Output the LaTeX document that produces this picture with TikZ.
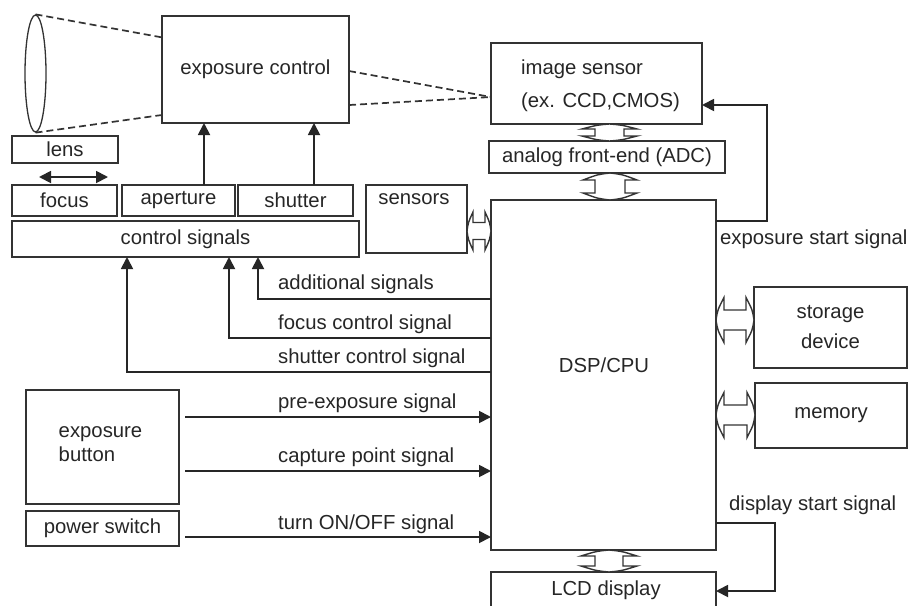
\documentclass[tikz,border=0pt]{standalone}
\usepackage{fontspec}
\setmainfont{Liberation Sans}
\usetikzlibrary{arrows.meta,shapes.geometric,calc}
\newcommand\vbus[6]{%
 \draw[bus] ({#1-#4},{#2+#6}) -- ({#1-#5},{#2+#6}) .. controls ({#1-0.45*#5},{#2+0.2*#6}) .. (#1,#2) .. controls ({#1+0.45*#5},{#2+0.2*#6}) .. ({#1+#5},{#2+#6}) -- ({#1+#4},{#2+#6}) -- ({#1+#4},{#3-#6}) -- ({#1+#5},{#3-#6}) .. controls ({#1+0.45*#5},{#3-0.2*#6}) .. (#1,#3) .. controls ({#1-0.45*#5},{#3-0.2*#6}) .. ({#1-#5},{#3-#6}) -- ({#1-#4},{#3-#6}) -- cycle;}
\newcommand\hbus[6]{%
 \draw[bus] ({#1+#6},{#3-#4}) -- ({#1+#6},{#3-#5}) .. controls ({#1+0.2*#6},{#3-0.45*#5}) .. (#1,#3) .. controls ({#1+0.2*#6},{#3+0.45*#5}) .. ({#1+#6},{#3+#5}) -- ({#1+#6},{#3+#4}) -- ({#2-#6},{#3+#4}) -- ({#2-#6},{#3+#5}) .. controls ({#2-0.2*#6},{#3+0.45*#5}) .. (#2,#3) .. controls ({#2-0.2*#6},{#3-0.45*#5}) .. ({#2-#6},{#3-#5}) -- ({#2-#6},{#3-#4}) -- cycle;}
\begin{document}
\begin{tikzpicture}[x=1pt,y=-1pt,
  every node/.style={font=\fontsize{20.3}{24}\selectfont, text=black!85},
  box/.style={draw=black!80, line width=1.8pt, inner sep=0pt, outer sep=0pt},
  txt/.style={inner sep=0pt},
  arr/.style={draw=black!85, line width=1.8pt, -{Triangle[length=12pt,width=12pt]}},
  plain/.style={draw=black!85, line width=1.8pt},
  dashln/.style={draw=black!80, line width=1.7pt, dash pattern=on 7pt off 4pt},
  bus/.style={draw=black!80, line width=1.4pt, fill=white}]
\clip (0,0) rectangle (915,605);
\fill[white] (0,0) rectangle (915,605);
% lens
\node[draw=black!80, line width=1.3pt, ellipse, minimum width=21pt, minimum height=117pt, inner sep=0pt] (lensel) at (35.5,73.5) {};
\node[box, minimum width=187pt, minimum height=107pt] (expctl) at (255.5,69.5) {exposure control};
\node[box, minimum width=106pt, minimum height=27pt] (lens) at (65,149.5) {lens};
\node[box, minimum width=105pt, minimum height=31pt] (focus) at (64.5,200.5) {focus};
\node[box, minimum width=113pt, minimum height=31pt] (aperture) at (178.5,200.5) {aperture};
\node[box, minimum width=115pt, minimum height=31pt] (shutter) at (295.5,200.5) {shutter};
\node[box, minimum width=347pt, minimum height=36pt] (ctrl) at (185.5,239) {control signals};
\node[box, minimum width=101pt, minimum height=68pt] (sensors) at (416.5,219) {};
\node[txt] (sensorst) at (414,199) {sensors};
% right column
\node[box, minimum width=211pt, minimum height=81pt] (img) at (596.5,83.5) {};
\node[txt, align=left, font=\fontsize{20.3}{33}\selectfont] (imgt) at (600.5,86) {image sensor\\(ex. CCD,CMOS)};
\node[box, minimum width=236pt, minimum height=32pt] (afe) at (607,157) {analog front-end (ADC)};
\node[box, minimum width=225pt, minimum height=350pt] (dsp) at (603.5,375) {};
\node[txt] (dspt) at (604,365) {DSP/CPU};
\node[box, minimum width=225pt, minimum height=53pt] (lcd) at (603.5,598.5) {};
\node[txt] (lcdt) at (606,590) {LCD display};
\node[box, minimum width=153pt, minimum height=81pt, align=center, font=\fontsize{20.3}{30}\selectfont] (storage) at (830.5,327.5) {storage\\device};
\node[box, minimum width=152pt, minimum height=65pt] (memory) at (831,415.5) {memory};
% left bottom
\node[box, minimum width=153pt, minimum height=114pt] (expbtn) at (102.5,447) {};
\node[txt, align=left, font=\fontsize{20.3}{24}\selectfont] (expbtnt) at (100.5,444) {exposure\\button};
\node[box, minimum width=153pt, minimum height=35pt] (power) at (102.5,528.5) {power switch};
% dashed optical path
\draw[dashln] (lensel.north) -- ($(expctl.north west)!0.2!(expctl.south west)$);
\draw[dashln] (lensel.south) -- ($(expctl.north west)!0.925!(expctl.south west)$);
\coordinate (imgin) at ($(img.north west)!0.667!(img.south west)$);
\draw[dashln] ($(expctl.north east)!0.514!(expctl.south east)$) -- (imgin);
\draw[dashln] ($(expctl.north east)!0.832!(expctl.south east)$) -- (imgin);
% lens focus arrow
\coordinate (fa1) at (39,177);
\coordinate (fa2) at (108,177);
\draw[plain, {Triangle[length=12pt,width=12pt]}-{Triangle[length=12pt,width=12pt]}] (fa1) -- (fa2);
% aperture / shutter
\draw[arr] ([xshift=25.5pt]aperture.north) -- ([xshift=25.5pt]aperture.north |- expctl.south);
\draw[arr] ([xshift=18.5pt]shutter.north) -- ([xshift=18.5pt]shutter.north |- expctl.south);
% control signals from DSP
\coordinate (ad) at (258,299);
\coordinate (fc) at (229,338);
\coordinate (sc) at (127,372);
\draw[arr] (dsp.west |- ad) -- (ad) -- (ad |- ctrl.south);
\draw[arr] (dsp.west |- fc) -- (fc) -- (fc |- ctrl.south);
\draw[arr] (dsp.west |- sc) -- (sc) -- (sc |- ctrl.south);
\node[txt, anchor=west] (adt) at (278,284) {additional signals};
\node[txt, anchor=west] (fct) at (278,324) {focus control signal};
\node[txt, anchor=west] (sct) at (278,358) {shutter control signal};
% inputs
\coordinate (pe) at (185,417);
\coordinate (cp) at (185,471);
\coordinate (to) at (185,537);
\draw[arr] (pe) -- (dsp.west |- pe);
\draw[arr] (cp) -- (dsp.west |- cp);
\draw[arr] (to) -- (dsp.west |- to);
\node[txt, anchor=west] (pet) at (278,403) {pre-exposure signal};
\node[txt, anchor=west] (cpt) at (278,457) {capture point signal};
\node[txt, anchor=west] (tot) at (278,524) {turn ON/OFF signal};
% exposure start
\coordinate (es1) at (767,221);
\coordinate (es2) at (767,105);
\draw[arr] (dsp.east |- es1) -- (es1) -- (es2) -- (img.east |- es2);
\node[txt, anchor=west] (est) at (720,239) {exposure start signal};
% display start
\coordinate (ds1) at (775,523);
\coordinate (ds2) at (775,591);
\draw[arr] (dsp.east |- ds1) -- (ds1) -- (ds2) -- (lcd.east |- ds2);
\node[txt, anchor=west] (dst) at (729,505) {display start signal};
% bus arrows
\vbus{609.5}{124}{141}{14.5}{27.5}{5}
\vbus{610}{173}{200}{15}{27}{7}
\vbus{609}{550}{572}{14}{28}{6}
\hbus{467}{491}{231}{8.5}{19}{6}
\hbus{716}{754}{320}{10}{22.5}{8}
\hbus{716}{755}{415}{10}{22.5}{8}
\end{tikzpicture}
\end{document}
